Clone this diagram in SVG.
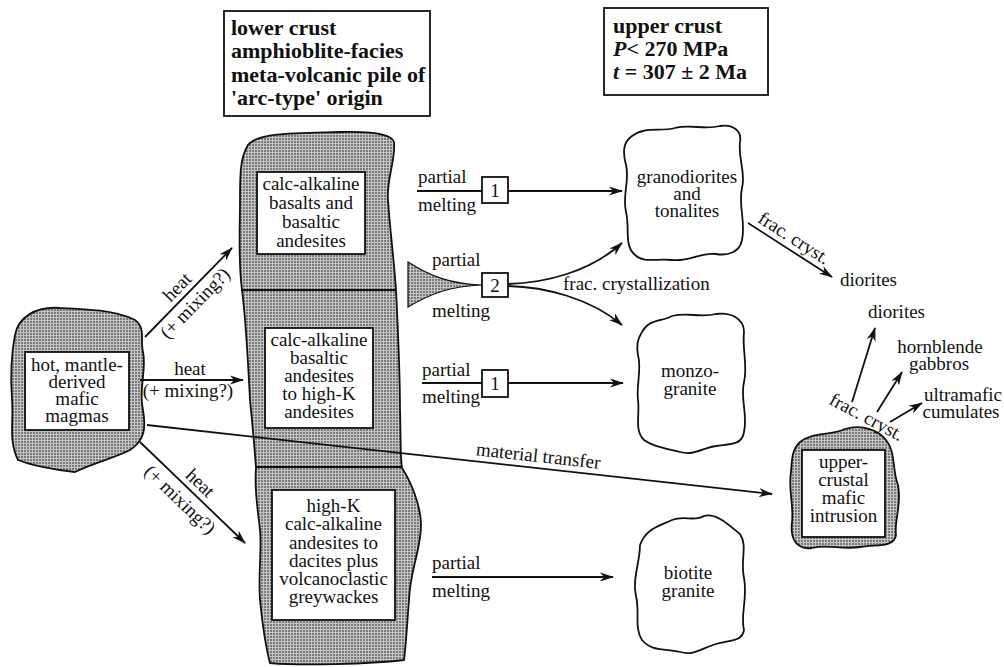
<svg xmlns="http://www.w3.org/2000/svg" width="1004" height="667" viewBox="0 0 1004 667">
<style>
text{font-family:"Liberation Serif","DejaVu Serif","Times New Roman",serif;font-size:19px;fill:#111}
.c{text-anchor:middle}
.h{font-size:22px;font-weight:bold}
.i{font-style:italic}
.blob{fill:url(#stip);stroke:#111;stroke-width:1.8}
.cloud{fill:#fff;stroke:#111;stroke-width:1.8}
.box{fill:#fff;stroke:#111;stroke-width:1.8}
.ln{fill:none;stroke:#111;stroke-width:1.8}
.ar{fill:none;stroke:#111;stroke-width:1.8;marker-end:url(#ah)}
</style>
<defs>
<pattern id="stip" width="3" height="3" patternUnits="userSpaceOnUse">
<rect width="3" height="3" fill="#c4c4c4"/>
<rect width="2" height="2" fill="#7a7a7a"/>
</pattern>
<marker id="ah" viewBox="0 0 14 10" refX="13" refY="5" markerWidth="14" markerHeight="10" markerUnits="userSpaceOnUse" orient="auto">
<path d="M0,0.5 L14,5 L0,9.5 L4,5 Z" fill="#111"/>
</marker>
</defs>
<rect width="1004" height="667" fill="#fff"/>
<g font-family="Liberation Serif, DejaVu Serif, serif">

<g id="title-lower">
<rect class="box" x="224" y="11" width="206" height="105"/>
<text class="h" x="231" y="35">lower crust</text>
<text class="h" x="231" y="58">amphioblite-facies</text>
<text class="h" x="231" y="82">meta-volcanic pile of</text>
<text class="h" x="231" y="105">'arc-type' origin</text>
</g>

<g id="title-upper">
<rect class="box" x="604" y="8" width="164" height="87"/>
<text class="h" x="613" y="33">upper crust</text>
<text class="h" x="613" y="56"><tspan class="i">P</tspan>&lt; 270 MPa</text>
<text class="h" x="613" y="79"><tspan class="i">t</tspan> = 307 ± 2 Ma</text>
</g>

<g id="mantle-magmas">
<path class="blob" d="M15,335 C18,318 35,306 60,308 C85,309 115,310 135,320 C146,328 140,340 143,352 C147,370 138,390 143,410 C146,428 145,440 130,450 C115,458 95,462 75,472 C55,470 30,465 18,460 C8,440 14,420 12,400 C10,370 12,350 15,335 Z"/>
<rect class="box" x="25" y="352" width="104" height="78"/>
<text class="c" x="77" y="371">hot, mantle-</text>
<text class="c" x="77" y="388">derived</text>
<text class="c" x="77" y="405">mafic</text>
<text class="c" x="77" y="422">magmas</text>
</g>

<g id="lower-crust-pile">
<path class="blob" d="M248,145 C258,132 300,133 340,132 C370,131 392,134 394,142 C396,160 386,180 388,200 C390,230 394,260 396,290 C398,330 400,370 400,410 C401,440 400,455 402,468 C410,480 421,505 421,525 C421,550 410,570 409,600 C407,625 406,645 404,660 C370,664 300,666 270,663 C264,640 262,620 260,600 C258,575 262,550 260,530 C258,510 254,490 256,468 C254,440 252,420 250,400 C248,360 246,320 242,290 C238,260 240,230 240,200 C240,175 240,158 248,145 Z"/>
<line class="ln" x1="241" y1="290" x2="396" y2="290"/>
<line class="ln" x1="256" y1="467" x2="402" y2="467"/>
</g>

<g id="basalts">
<rect class="box" x="257" y="172" width="108" height="82"/>
<text class="c" x="311" y="190">calc-alkaline</text>
<text class="c" x="311" y="209">basalts and</text>
<text class="c" x="311" y="228">basaltic</text>
<text class="c" x="311" y="247">andesites</text>
</g>

<g id="basaltic-andesites">
<rect class="box" x="265" y="328" width="108" height="100"/>
<text class="c" x="319" y="346">calc-alkaline</text>
<text class="c" x="319" y="364">basaltic</text>
<text class="c" x="319" y="382">andesites</text>
<text class="c" x="319" y="400">to high-K</text>
<text class="c" x="319" y="418">andesites</text>
</g>

<g id="high-k">
<rect class="box" x="272" y="490" width="123" height="130"/>
<text class="c" x="333.5" y="512">high-K</text>
<text class="c" x="333.5" y="530">calc-alkaline</text>
<text class="c" x="333.5" y="548.5">andesites to</text>
<text class="c" x="333.5" y="567">dacites plus</text>
<text class="c" x="333.5" y="585">volcanoclastic</text>
<text class="c" x="333.5" y="603">greywackes</text>
</g>

<g id="granodiorites">
<path class="cloud" d="M632,136 C645,126 660,132 675,128 C690,124 705,130 720,126 C732,124 742,130 740,142 C738,160 746,172 742,188 C738,205 746,222 742,240 C740,252 728,256 716,254 C700,252 690,262 672,260 C656,258 644,264 634,254 C624,244 630,228 626,212 C622,195 630,180 626,165 C622,150 624,142 632,136 Z"/>
<text class="c" x="687" y="183">granodiorites</text>
<text class="c" x="687" y="200">and</text>
<text class="c" x="687" y="217">tonalites</text>
</g>

<g id="monzogranite">
<path class="cloud" d="M642,332 C650,318 662,322 672,316 C688,312 700,318 716,314 C730,312 744,318 744,332 C742,350 748,365 744,382 C740,398 748,415 744,432 C742,446 728,444 716,446 C702,448 694,456 680,452 C664,448 652,446 644,440 C634,430 640,415 638,400 C636,385 642,370 638,355 C636,345 638,338 642,332 Z"/>
<text class="c" x="690" y="377">monzo-</text>
<text class="c" x="690" y="395">granite</text>
</g>

<g id="biotite-granite">
<path class="cloud" d="M640,545 C646,528 660,526 672,520 C684,515 694,522 704,516 C716,512 730,526 740,534 C748,546 740,560 744,578 C748,598 740,615 744,630 C742,642 730,640 716,644 C702,648 694,656 680,652 C664,648 652,652 642,640 C634,628 640,612 636,596 C632,580 640,562 640,545 Z"/>
<text class="c" x="688" y="579">biotite</text>
<text class="c" x="688" y="597">granite</text>
</g>

<g id="mafic-intrusion">
<path class="blob" d="M800,442 C812,432 830,436 845,429 C862,424 878,430 886,440 C896,452 892,470 898,485 C902,505 894,520 896,535 C894,548 876,544 860,547 C842,550 828,544 812,548 C796,550 790,538 792,522 C794,505 788,490 791,472 C792,458 792,450 800,442 Z"/>
<rect class="box" x="802" y="450" width="83" height="87"/>
<text class="c" x="843.5" y="468">upper-</text>
<text class="c" x="843.5" y="486">crustal</text>
<text class="c" x="843.5" y="504">mafic</text>
<text class="c" x="843.5" y="522">intrusion</text>
</g>

<g id="diorites-1"><text x="840" y="286">diorites</text></g>
<g id="diorites-2"><text x="868" y="318">diorites</text></g>
<g id="hornblende-gabbros">
<text class="c" x="940" y="353">hornblende</text>
<text class="c" x="939" y="370">gabbros</text>
</g>
<g id="ultramafic-cumulates">
<text class="c" x="963" y="401">ultramafic</text>
<text class="c" x="961" y="418">cumulates</text>
</g>

<g id="connectors">
<line class="ar" x1="145" y1="337" x2="232" y2="248"/>
<g transform="translate(188,292) rotate(-45.6)">
<text class="c" x="-4" y="-5">heat</text>
<text class="c" x="-3" y="19">(+ mixing?)</text>
</g>
<line class="ar" x1="140" y1="380" x2="243" y2="380"/>
<text class="c" x="190" y="375">heat</text>
<text class="c" x="188" y="397">(+ mixing?)</text>
<line class="ar" x1="140" y1="442" x2="245" y2="543"/>
<g transform="translate(192.5,492.5) rotate(43.9)">
<text class="c" x="-1" y="-6">heat</text>
<text class="c" x="-4" y="20">(+ mixing?)</text>
</g>

<line class="ar" x1="147" y1="425" x2="772" y2="494"/>
<text class="c" transform="translate(537,468) rotate(6.3)" y="-6">material transfer</text>

<line class="ln" x1="417" y1="191" x2="482" y2="191"/>
<rect class="box" x="482" y="177" width="26" height="26"/>
<text class="c" x="495" y="197">1</text>
<line class="ar" x1="508" y1="191" x2="622" y2="191"/>
<text x="418" y="183">partial</text>
<text x="418" y="211">melting</text>

<path class="blob" d="M408,262 C430,276 450,284 482,285 C450,286 430,294 408,307 Z" style="stroke-width:1.2"/>
<rect class="box" x="482" y="273" width="26" height="24"/>
<text class="c" x="495" y="292">2</text>
<path class="ar" d="M508,284 C545,283 590,272 622,243"/>
<path class="ar" d="M508,286 C545,287 590,298 622,325"/>
<text x="432" y="266">partial</text>
<text x="432" y="317">melting</text>
<text x="563" y="290">frac. crystallization</text>

<line class="ln" x1="422" y1="383" x2="482" y2="383"/>
<rect class="box" x="482" y="370" width="26" height="27"/>
<text class="c" x="495" y="390">1</text>
<line class="ar" x1="508" y1="383" x2="623" y2="383"/>
<text x="422" y="376">partial</text>
<text x="422" y="403">melting</text>

<line class="ar" x1="432" y1="577" x2="613" y2="577"/>
<text x="432" y="569">partial</text>
<text x="432" y="597">melting</text>

<line class="ar" x1="748" y1="223" x2="832" y2="277"/>
<text class="c" transform="translate(790,250) rotate(32.7)" x="-3" y="-6">frac. cryst.</text>

<line class="ar" x1="852" y1="402" x2="875" y2="328"/>
<line class="ar" x1="877" y1="412" x2="902" y2="372"/>
<line class="ar" x1="890" y1="422" x2="922" y2="403"/>
<text class="c" transform="translate(866,418) rotate(28)" y="5">frac. cryst.</text>
</g>
</g>
</svg>
